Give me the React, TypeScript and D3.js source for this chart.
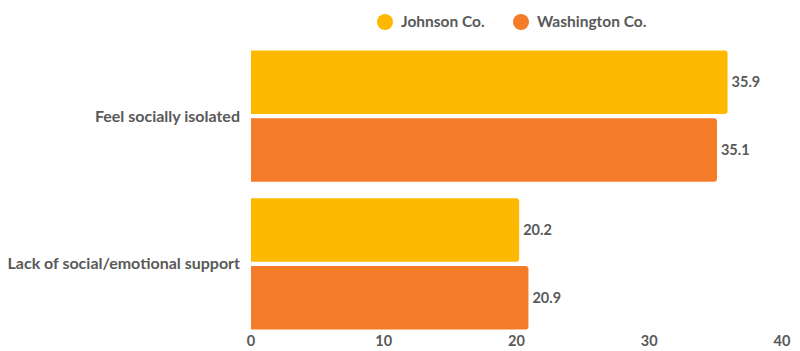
import React, { useEffect, useRef } from "react";
import * as d3 from "d3";

const categories = ["Feel socially isolated", "Lack of social/emotional support"];
const seriesNames = ["Johnson Co.", "Washington Co."];
const johnson = [35.9, 20.2];
const washington = [35.1, 20.9];
const xTicks = [0, 10, 20, 30, 40];

const colors = ["#FDB900", "#F47B28"];
const textColor = "#595959";
const font = "Lato, 'Open Sans', sans-serif";

export default function App() {
  const svgRef = useRef<SVGSVGElement>(null);

  useEffect(() => {
    const svg = d3.select(svgRef.current);
    svg.selectAll("*").remove();

    const x = d3.scaleLinear().domain([0, 40]).range([251, 782]);
    const y0 = d3
      .scaleBand()
      .domain(categories)
      .range([43, 337])
      .paddingInner(0.11)
      .paddingOuter(0.05);
    const y1 = d3
      .scaleBand()
      .domain(seriesNames)
      .range([0, y0.bandwidth()])
      .paddingInner(0.06);

    const rows = categories.map((c, i) => ({
      cat: c,
      vals: [
        { name: seriesNames[0], value: johnson[i] },
        { name: seriesNames[1], value: washington[i] },
      ],
    }));

    const groups = svg
      .selectAll(".grp")
      .data(rows)
      .enter()
      .append("g")
      .attr("class", "grp")
      .attr("transform", (d) => `translate(0, ${y0(d.cat)})`);

    const r = 3;
    groups
      .selectAll("path")
      .data((d) => d.vals)
      .enter()
      .append("path")
      .attr("d", (d) => {
        const x0 = x(0);
        const x1 = x(d.value);
        const top = y1(d.name)!;
        const h = y1.bandwidth();
        return `M${x0},${top}H${x1 - r}Q${x1},${top} ${x1},${top + r}V${top + h - r}Q${x1},${top + h} ${x1 - r},${top + h}H${x0}Z`;
      })
      .attr("fill", (d, i) => colors[i]);

    groups
      .selectAll("text.val")
      .data((d) => d.vals)
      .enter()
      .append("text")
      .attr("class", "val")
      .attr("x", (d) => x(d.value) + 4)
      .attr("y", (d) => y1(d.name)! + y1.bandwidth() / 2)
      .attr("dy", "0.35em")
      .attr("fill", textColor)
      .attr("font-family", font)
      .attr("font-weight", 700)
      .attr("font-size", "14.5px")
      .text((d) => d.value.toFixed(1));

    svg
      .selectAll("text.cat")
      .data(categories)
      .enter()
      .append("text")
      .attr("class", "cat")
      .attr("x", 240)
      .attr("y", (d) => y0(d)! + y0.bandwidth() / 2)
      .attr("dy", "0.35em")
      .attr("text-anchor", "end")
      .attr("fill", textColor)
      .attr("font-family", font)
      .attr("font-weight", 700)
      .attr("font-size", "16px")
      .text((d) => d);

    svg
      .selectAll("text.tick")
      .data(xTicks)
      .enter()
      .append("text")
      .attr("class", "tick")
      .attr("x", (d) => x(d))
      .attr("y", 341)
      .attr("dy", "0.35em")
      .attr("text-anchor", "middle")
      .attr("fill", textColor)
      .attr("font-family", font)
      .attr("font-weight", 700)
      .attr("font-size", "14.5px")
      .text((d) => d);

    const legendX = [385, 521];
    const legend = svg
      .selectAll(".leg")
      .data(seriesNames)
      .enter()
      .append("g")
      .attr("class", "leg")
      .attr("transform", (d, i) => `translate(${legendX[i]}, 22)`);
    legend
      .append("circle")
      .attr("r", 8)
      .attr("fill", (d, i) => colors[i]);
    legend
      .append("text")
      .attr("x", 16)
      .attr("dy", "0.35em")
      .attr("fill", textColor)
      .attr("font-family", font)
      .attr("font-weight", 700)
      .attr("font-size", "15.5px")
      .text((d) => d);
  }, []);

  return (
    <div style={{ width: 800, height: 351, position: "absolute", left: 0, top: 0 }}>
      <svg ref={svgRef} width={800} height={351} style={{ display: "block" }} />
    </div>
  );
}
